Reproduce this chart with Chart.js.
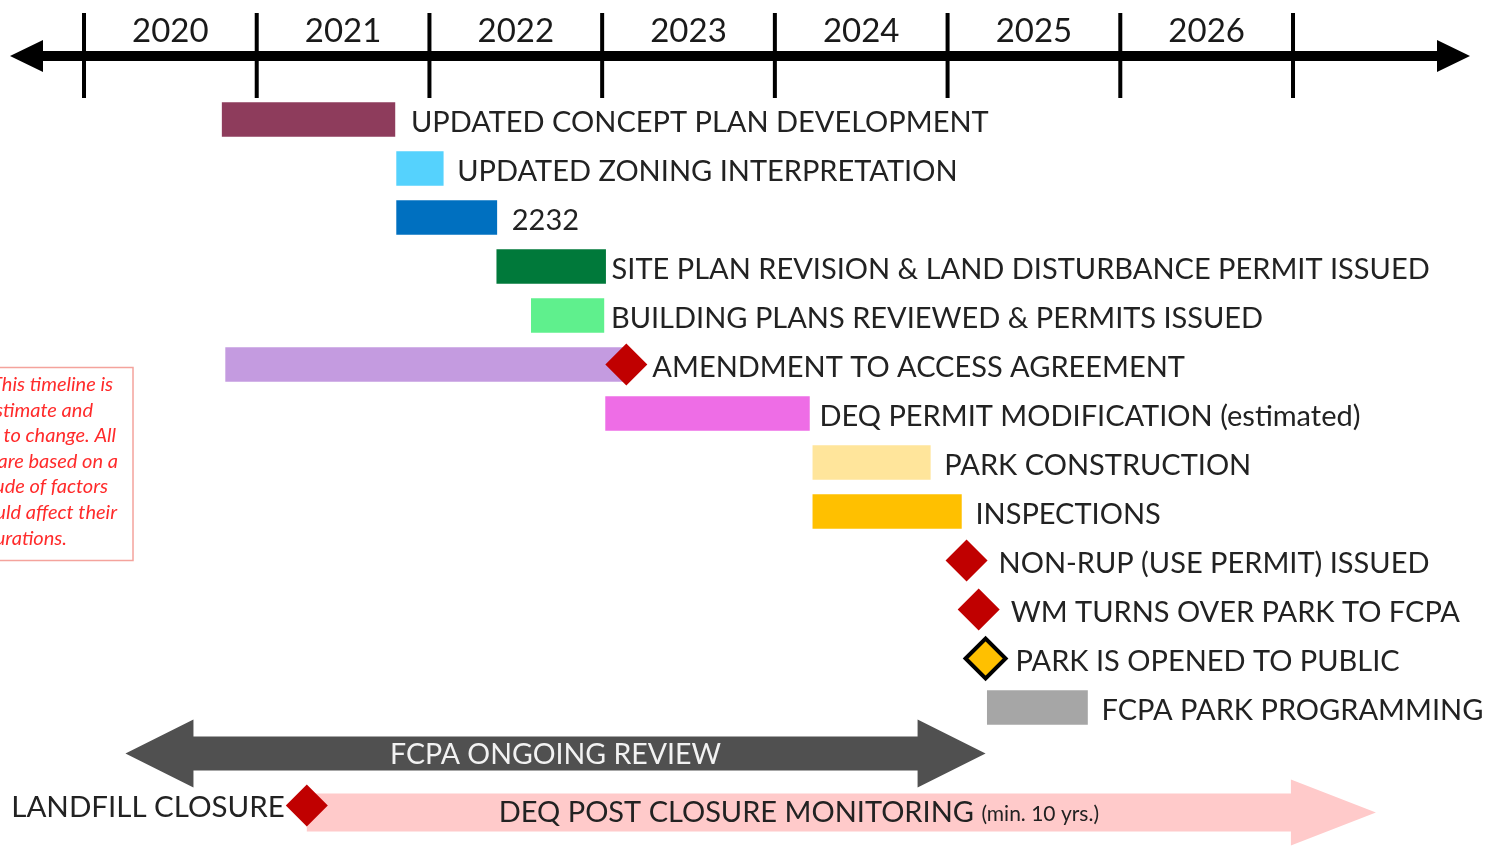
<!DOCTYPE html>
<html><head><meta charset="utf-8">
<script src="https://cdn.jsdelivr.net/npm/chart.js@4.4.1/dist/chart.umd.min.js"></script>
<style>html,body{margin:0;padding:0;background:#fff;}#wrap{position:relative;width:1485px;height:846px;}</style>
</head><body><div id="wrap"><canvas id="c"></canvas></div>
<script>
// ---- data ----
const tickYears = [2020, 2021, 2022, 2023, 2024, 2025, 2026, 2027];
const yearLabels = ['2020', '2021', '2022', '2023', '2024', '2025', '2026'];
const rows = ['concept','zoning','2232','site','building','amendment','deq','construction','inspections','nonrup','wm','opened','programming','ongoing','postclosure'];
const rowLabels = [
  'UPDATED CONCEPT PLAN DEVELOPMENT',
  'UPDATED ZONING INTERPRETATION',
  '2232',
  'SITE PLAN REVISION & LAND DISTURBANCE PERMIT ISSUED',
  'BUILDING PLANS REVIEWED & PERMITS ISSUED',
  'AMENDMENT TO ACCESS AGREEMENT',
  'DEQ PERMIT MODIFICATION (estimated)',
  'PARK CONSTRUCTION',
  'INSPECTIONS',
  'NON-RUP (USE PERMIT) ISSUED',
  'WM TURNS OVER PARK TO FCPA',
  'PARK IS OPENED TO PUBLIC',
  'FCPA PARK PROGRAMMING',
  'FCPA ONGOING REVIEW',
  'DEQ POST CLOSURE MONITORING'
];
const barStart = [2020.80, 2021.81, 2021.81, 2022.39, 2022.59, 2020.82, 2023.02, 2024.22, 2024.22, null, null, null, 2025.23, null, null];
const barEnd   = [2021.80, 2022.08, 2022.39, 2023.02, 2023.01, 2023.14, 2024.20, 2024.90, 2025.08, null, null, null, 2025.81, null, null];
const milestones = [null, null, null, null, null, 2023.14, null, null, null, 2025.11, 2025.18, 2025.22, null, null, 2021.29];
const ongoingReview = [2020.24, 2025.22];
const postClosure = [2021.29, 2027.48];
const landfillLabel = 'LANDFILL CLOSURE';
const postClosureNote = '(min. 10 yrs.)';
const noteLines = ['This timeline is', 'an estimate and', 'subject to change. All', 'timeframes are based on a', 'multitude of factors', 'that could affect their', 'durations.'];

// ---- styles ----
const barColors = ['#8e3c5c','#55d2fd','#0070c0','#00793a','#5ff08d','#c49be0','#ee6de6','#ffe59b','#ffc000',null,null,null,'#a6a6a6',null,null];
const labelGaps = [16,14,15,6,7,6,10,14,14,12,12,10,14,0,0];
const FONT = 'Lato, "Open Sans", sans-serif';
const LABEL_FONT = '29px ' + FONT;

const barData = rows.map((r, i) => barStart[i] != null ? [barStart[i], barEnd[i]] : null);
const msIdx = rows.map((r, i) => i).filter(i => milestones[i] != null);
const msData = msIdx.map(i => ({x: milestones[i], y: rows[i]}));
const msFill = msIdx.map(i => rows[i] === 'opened' ? '#ffc000' : '#c00000');
const msBorder = msIdx.map(i => rows[i] === 'opened' ? '#000000' : '#c00000');
const msBorderW = msIdx.map(i => rows[i] === 'opened' ? 4 : 0);
const msRadius = msIdx.map(i => rows[i] === 'opened' ? 20 : 21);

function arrowPath(ctx, x0, x1, cy, shaftH, headH, headL, leftHead, rightHead) {
  ctx.beginPath();
  if (leftHead) {
    ctx.moveTo(x0, cy);
    ctx.lineTo(x0 + headL, cy - headH);
    ctx.lineTo(x0 + headL, cy - shaftH);
  } else {
    ctx.moveTo(x0, cy - shaftH);
  }
  if (rightHead) {
    ctx.lineTo(x1 - headL, cy - shaftH);
    ctx.lineTo(x1 - headL, cy - headH);
    ctx.lineTo(x1, cy);
    ctx.lineTo(x1 - headL, cy + headH);
    ctx.lineTo(x1 - headL, cy + shaftH);
  } else {
    ctx.lineTo(x1, cy - shaftH);
    ctx.lineTo(x1, cy + shaftH);
  }
  if (leftHead) {
    ctx.lineTo(x0 + headL, cy + shaftH);
    ctx.lineTo(x0 + headL, cy + headH);
  } else {
    ctx.lineTo(x0, cy + shaftH);
  }
  ctx.closePath();
}

const timelinePlugin = {
  id: 'timeline',
  beforeDatasetsDraw(chart) {
    const {ctx, chartArea} = chart;
    const xs = chart.scales.x, ys = chart.scales.y;
    ctx.save();
    // top axis
    const axisY = 56;
    const left = chartArea.left + 10, right = chartArea.right - 15;
    ctx.fillStyle = '#000';
    ctx.fillRect(left + 30, axisY - 5, right - left - 60, 10);
    ctx.beginPath(); ctx.moveTo(left, axisY); ctx.lineTo(left + 33, axisY - 16); ctx.lineTo(left + 33, axisY + 16); ctx.closePath(); ctx.fill();
    ctx.beginPath(); ctx.moveTo(right, axisY); ctx.lineTo(right - 33, axisY - 16); ctx.lineTo(right - 33, axisY + 16); ctx.closePath(); ctx.fill();
    tickYears.forEach(yr => {
      const px = xs.getPixelForValue(yr);
      ctx.fillRect(px - 2, 13, 4, 85);
    });
    ctx.font = '33px ' + FONT;
    ctx.fillStyle = '#1a1a1a';
    ctx.textAlign = 'center';
    ctx.textBaseline = 'alphabetic';
    yearLabels.forEach(lbl => {
      const px = xs.getPixelForValue(Number(lbl) + 0.5);
      ctx.fillText(lbl, px, 42);
    });

    // note box
    ctx.strokeStyle = '#f4a39c';
    ctx.lineWidth = 1.5;
    ctx.strokeRect(-5, 367.5, 138, 193);
    ctx.fillStyle = '#ff2b2b';
    ctx.font = 'italic 20px ' + FONT;
    ctx.textAlign = 'right';
    const noteEnds = [113, 93, 116, 118, 108, 117, 67];
    noteLines.forEach((t, i) => ctx.fillText(t, noteEnds[i], 391 + i * 25.6));

    // ongoing review double arrow
    const oy = ys.getPixelForValue('ongoing');
    const o0 = xs.getPixelForValue(ongoingReview[0]), o1 = xs.getPixelForValue(ongoingReview[1]);
    ctx.fillStyle = '#505050';
    arrowPath(ctx, o0, o1, oy - 3, 17, 34, 68, true, true);
    ctx.fill();

    // post closure arrow
    const py = ys.getPixelForValue('postclosure');
    const p0 = xs.getPixelForValue(postClosure[0]), p1 = xs.getPixelForValue(postClosure[1]);
    ctx.fillStyle = '#ffcaca';
    arrowPath(ctx, p0, p1, py + 7, 19, 33, 85, false, true);
    ctx.fill();
    ctx.restore();
  },
  afterDatasetsDraw(chart) {
    const {ctx} = chart;
    const xs = chart.scales.x, ys = chart.scales.y;
    ctx.save();
    ctx.font = LABEL_FONT;
    ctx.fillStyle = '#222';
    ctx.textBaseline = 'alphabetic';
    ctx.textAlign = 'left';
    rows.forEach((r, i) => {
      if (r === 'ongoing' || r === 'postclosure') return;
      const cy = ys.getPixelForValue(r);
      let anchor;
      if (milestones[i] != null) anchor = xs.getPixelForValue(milestones[i]) + 20;
      else anchor = xs.getPixelForValue(barEnd[i]);
      ctx.fillText(rowLabels[i], anchor + labelGaps[i], cy + 12);
    });
    // ongoing review label
    const oy = ys.getPixelForValue('ongoing');
    const om = (xs.getPixelForValue(ongoingReview[0]) + xs.getPixelForValue(ongoingReview[1])) / 2;
    ctx.fillStyle = '#f2f2f2';
    ctx.textAlign = 'center';
    ctx.font = '28.5px ' + FONT;
    ctx.fillText(rowLabels[13], om, oy + 7);
    // landfill closure label
    const py = ys.getPixelForValue('postclosure');
    const lx = xs.getPixelForValue(postClosure[0]) - 22;
    ctx.fillStyle = '#222';
    ctx.textAlign = 'right';
    ctx.font = '29.5px ' + FONT;
    ctx.fillText(landfillLabel, lx, py + 11);
    // post closure label
    const pm = (xs.getPixelForValue(postClosure[0]) + xs.getPixelForValue(postClosure[1]) - 85) / 2;
    ctx.font = LABEL_FONT;
    const w1 = ctx.measureText(rowLabels[14] + ' ').width;
    ctx.font = '21px ' + FONT;
    const w2 = ctx.measureText(postClosureNote).width;
    const sx = pm - (w1 + w2) / 2;
    ctx.textAlign = 'left';
    ctx.font = LABEL_FONT;
    ctx.fillText(rowLabels[14], sx, py + 16);
    ctx.font = '21px ' + FONT;
    ctx.fillText(postClosureNote, sx + w1, py + 15);
    ctx.restore();
  }
};

new Chart(document.getElementById('c'), {
  type: 'bar',
  data: {
    labels: rows,
    datasets: [
      {
        type: 'bar',
        data: barData,
        backgroundColor: barColors,
        borderWidth: 0,
        barThickness: 34,
        order: 2
      },
      {
        type: 'scatter',
        data: msData,
        pointStyle: 'rectRot',
        pointRadius: msRadius,
        pointHoverRadius: msRadius,
        backgroundColor: msFill,
        borderColor: msBorder,
        borderWidth: msBorderW,
        order: 1
      }
    ]
  },
  options: {
    indexAxis: 'y',
    responsive: true,
    maintainAspectRatio: false,
    animation: false,
    layout: { autoPadding: false, padding: { top: 95, bottom: 16, left: 0, right: 0 } },
    scales: {
      x: { type: 'linear', min: 2019.5136, max: 2028.1116, display: false },
      y: { type: 'category', labels: rows, display: false, offset: true }
    },
    plugins: { legend: { display: false }, tooltip: { enabled: false } }
  },
  plugins: [timelinePlugin]
});
</script>
</body></html>
